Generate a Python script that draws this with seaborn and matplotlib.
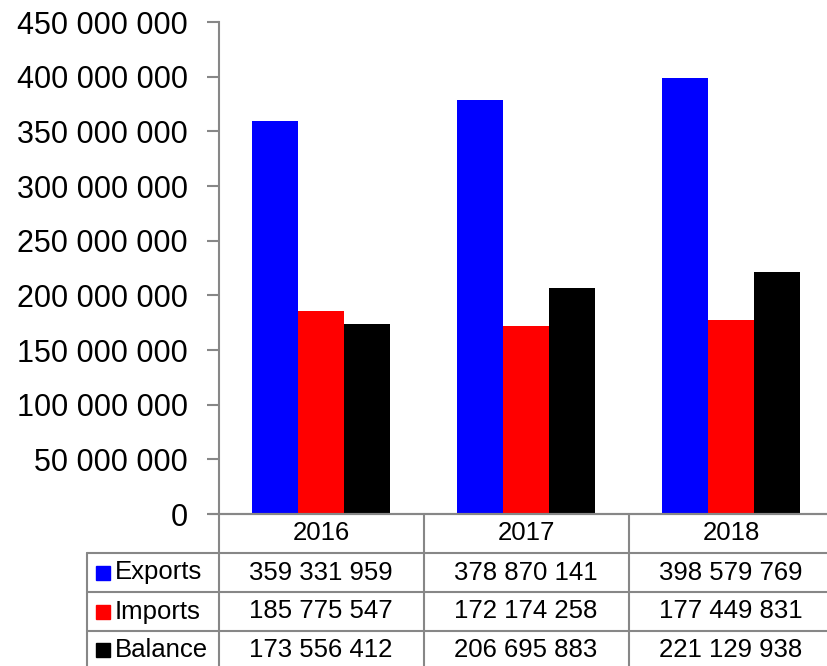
import matplotlib
matplotlib.use("Agg")
import matplotlib.pyplot as plt
import seaborn as sns
import pandas as pd

years = ["2016", "2017", "2018"]
series = ["Exports", "Imports", "Balance"]
exports = [359331959, 378870141, 398579769]
imports = [185775547, 172174258, 177449831]
balance = [173556412, 206695883, 221129938]
colors = ["#0000FF", "#FF0000", "#000000"]
yticks = [0, 50e6, 100e6, 150e6, 200e6, 250e6, 300e6, 350e6, 400e6, 450e6]

values = {"Exports": exports, "Imports": imports, "Balance": balance}
df = pd.DataFrame(
    [(y, s, values[s][i]) for s in series for i, y in enumerate(years)],
    columns=["year", "series", "value"],
)

sns.set_style("white")
plt.rcParams["font.family"] = ["Liberation Sans", "DejaVu Sans"]
plt.rcParams["text.color"] = "black"
plt.rcParams["ytick.labelcolor"] = "black"

W, H = 827, 666
fig = plt.figure(figsize=(W / 100, H / 100), dpi=100)

# axes placed in pixel terms: y from 514 (zero) to 22 (450M), x columns 205px wide
x0, x1 = 218.5, 218.5 + 3 * 205
ytop, ybot = 22, 514
ax = fig.add_axes([x0 / W, 1 - ybot / H, (x1 - x0) / W, (ybot - ytop) / H])

sns.barplot(data=df, x="year", y="value", hue="series", hue_order=series,
            palette=colors, width=0.67, gap=0, legend=False, ax=ax,
            saturation=1, linewidth=0)

ax.set_xlim(-0.5, 2.5)
ax.set_ylim(0, 450e6)
ax.set_yticks(yticks)
ax.set_yticklabels([f"{int(v):,}".replace(",", " ") for v in yticks],
                   fontsize=22, color="black")
ax.set_xticks([])
ax.set_xlabel("")
ax.set_ylabel("")
gray = "#878787"
for side in ["top", "right"]:
    ax.spines[side].set_visible(False)
for side in ["left", "bottom"]:
    ax.spines[side].set_color(gray)
    ax.spines[side].set_linewidth(1.5)
ax.tick_params(axis="y", length=9, width=1.5, color=gray, pad=13, left=True,
               labelcolor="black")


def fx(px):
    return px / W


def fy(py):
    return 1 - py / H


def hline(py, xa, xb):
    fig.add_artist(plt.Line2D([fx(xa), fx(xb)], [fy(py), fy(py)],
                              color=gray, lw=1.5, transform=fig.transFigure))


def vline(px, ya, yb):
    fig.add_artist(plt.Line2D([fx(px), fx(px)], [fy(ya), fy(yb)],
                              color=gray, lw=1.5, transform=fig.transFigure))


# zero line extended across the chart width
hline(514, 209, W)

# data table grid
row_lines = [553, 592, 631, 670]
for r in row_lines:
    hline(r, 87, W)
vline(x0, 514, H)
vline(423.5, 514, H)
vline(628.5, 514, H)
vline(87, 553, H)

col_centers = [x0 + 205 * (i + 0.5) for i in range(3)]
for i, y in enumerate(years):
    fig.text(fx(col_centers[i]), fy(533.5), y, ha="center", va="center",
             fontsize=18.5, color="black")

row_centers = [572.5, 611.5, 650]
for s, c, rc in zip(series, colors, row_centers):
    fig.add_artist(plt.Rectangle((fx(96), fy(rc + 7)), 14 / W, 14 / H,
                                 color=c, transform=fig.transFigure))
    fig.text(fx(115), fy(rc), s, ha="left", va="center", fontsize=18.5, color="black")
    for i in range(3):
        fig.text(fx(col_centers[i]), fy(rc), f"{values[s][i]:,}".replace(",", " "),
                 ha="center", va="center", fontsize=18.5, color="black")

fig.savefig("out.png", dpi=100)
